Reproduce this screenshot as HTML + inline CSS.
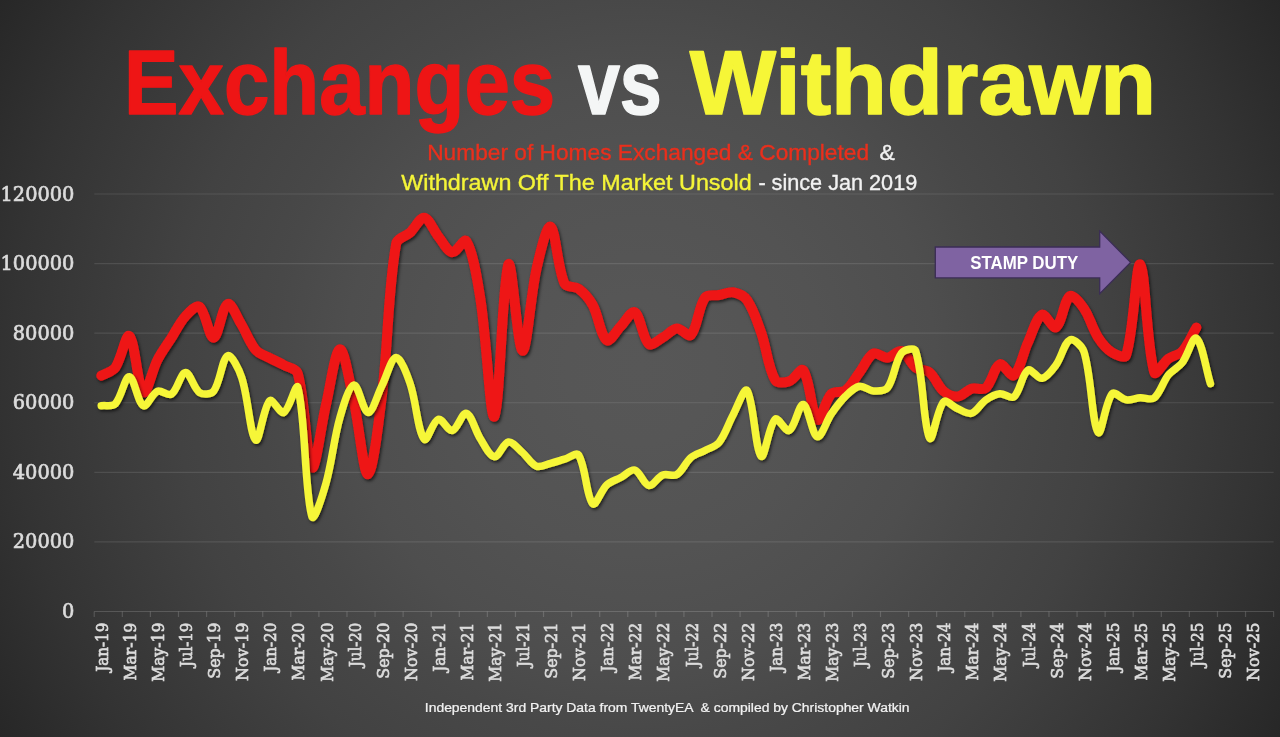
<!DOCTYPE html>
<html lang="en"><head><meta charset="utf-8"><title>Exchanges vs Withdrawn</title>
<style>
html,body{margin:0;padding:0;background:#272727;}
body{width:1280px;height:737px;overflow:hidden;position:relative;}
#bg{position:absolute;left:0;top:0;width:1280px;height:737px;background:radial-gradient(circle 739px at 640px 368.5px,#575757 0%, #565656 10%, #535353 25%, #4e4e4e 40%, #484848 50%, #424242 63%, #333333 85%, #272727 100%);}
svg{position:absolute;left:0;top:0;display:block;opacity:0.999;}
.sans{font-family:"Liberation Sans",sans-serif;}
.slab{font-family:"DejaVu Serif","Liberation Serif",serif;}
</style></head><body>
<div id="bg"></div>
<svg width="1280" height="737" viewBox="0 0 1280 737">
<defs><filter id="sh" x="-5%" y="-10%" width="110%" height="125%"><feDropShadow dx="1.4" dy="2.0" stdDeviation="1.6" flood-color="#000" flood-opacity="0.6"/></filter></defs>
<g stroke="#fff" stroke-opacity="0.105" stroke-width="1.2" fill="none">
<line x1="94.3" y1="541.92" x2="1273.6" y2="541.92"/>
<line x1="94.3" y1="472.34" x2="1273.6" y2="472.34"/>
<line x1="94.3" y1="402.76" x2="1273.6" y2="402.76"/>
<line x1="94.3" y1="333.18" x2="1273.6" y2="333.18"/>
<line x1="94.3" y1="263.60" x2="1273.6" y2="263.60"/>
<line x1="94.3" y1="194.02" x2="1273.6" y2="194.02"/>
</g>
<g stroke="#fff" stroke-opacity="0.16" stroke-width="1.2" fill="none">
<line x1="94.3" y1="611.5" x2="1273.6" y2="611.5"/>
<path d="M94.25 611.5V617M122.33 611.5V617M150.41 611.5V617M178.49 611.5V617M206.57 611.5V617M234.65 611.5V617M262.73 611.5V617M290.81 611.5V617M318.89 611.5V617M346.97 611.5V617M375.05 611.5V617M403.13 611.5V617M431.21 611.5V617M459.29 611.5V617M487.37 611.5V617M515.45 611.5V617M543.53 611.5V617M571.61 611.5V617M599.69 611.5V617M627.77 611.5V617M655.85 611.5V617M683.93 611.5V617M712.01 611.5V617M740.09 611.5V617M768.17 611.5V617M796.25 611.5V617M824.33 611.5V617M852.41 611.5V617M880.49 611.5V617M908.57 611.5V617M936.65 611.5V617M964.73 611.5V617M992.81 611.5V617M1020.89 611.5V617M1048.97 611.5V617M1077.05 611.5V617M1105.13 611.5V617M1133.21 611.5V617M1161.29 611.5V617M1189.37 611.5V617M1217.45 611.5V617M1245.53 611.5V617M1273.61 611.5V617"/>
</g>
<g id="ylab">
<text class="slab" transform="translate(74.40 617.60) scale(0.9500 1)" font-size="20.4" fill="#DCDCDC" text-anchor="end" font-weight="normal" id="yl0" stroke="#DCDCDC" stroke-width="0.7">0</text>
<text class="slab" transform="translate(74.40 548.12) scale(0.9500 1)" font-size="20.4" fill="#DCDCDC" text-anchor="end" font-weight="normal" id="yl1" stroke="#DCDCDC" stroke-width="0.7">20000</text>
<text class="slab" transform="translate(74.40 478.64) scale(0.9500 1)" font-size="20.4" fill="#DCDCDC" text-anchor="end" font-weight="normal" id="yl2" stroke="#DCDCDC" stroke-width="0.7">40000</text>
<text class="slab" transform="translate(74.40 409.16) scale(0.9500 1)" font-size="20.4" fill="#DCDCDC" text-anchor="end" font-weight="normal" id="yl3" stroke="#DCDCDC" stroke-width="0.7">60000</text>
<text class="slab" transform="translate(74.40 339.68) scale(0.9500 1)" font-size="20.4" fill="#DCDCDC" text-anchor="end" font-weight="normal" id="yl4" stroke="#DCDCDC" stroke-width="0.7">80000</text>
<text class="slab" transform="translate(74.40 270.20) scale(0.9500 1)" font-size="20.4" fill="#DCDCDC" text-anchor="end" font-weight="normal" id="yl5" stroke="#DCDCDC" stroke-width="0.7">100000</text>
<text class="slab" transform="translate(74.40 200.72) scale(0.9500 1)" font-size="20.4" fill="#DCDCDC" text-anchor="end" font-weight="normal" id="yl6" stroke="#DCDCDC" stroke-width="0.7">120000</text>
</g>
<g id="xlab">
<text id="xl0" class="slab" transform="translate(107.87 622.70) rotate(-90) scale(0.9208 1)" font-size="16.4" fill="#DCDCDC" stroke="#DCDCDC" stroke-width="0.7" text-anchor="end">Jan-19</text>
<text id="xl2" class="slab" transform="translate(135.95 622.70) rotate(-90) scale(0.9519 1)" font-size="16.4" fill="#DCDCDC" stroke="#DCDCDC" stroke-width="0.7" text-anchor="end">Mar-19</text>
<text id="xl4" class="slab" transform="translate(164.03 622.70) rotate(-90) scale(0.9487 1)" font-size="16.4" fill="#DCDCDC" stroke="#DCDCDC" stroke-width="0.7" text-anchor="end">May-19</text>
<text id="xl6" class="slab" transform="translate(192.11 622.70) rotate(-90) scale(0.9111 1)" font-size="16.4" fill="#DCDCDC" stroke="#DCDCDC" stroke-width="0.7" text-anchor="end">Jul-19</text>
<text id="xl8" class="slab" transform="translate(220.19 622.70) rotate(-90) scale(0.9691 1)" font-size="16.4" fill="#DCDCDC" stroke="#DCDCDC" stroke-width="0.7" text-anchor="end">Sep-19</text>
<text id="xl10" class="slab" transform="translate(248.27 622.70) rotate(-90) scale(0.9723 1)" font-size="16.4" fill="#DCDCDC" stroke="#DCDCDC" stroke-width="0.7" text-anchor="end">Nov-19</text>
<text id="xl12" class="slab" transform="translate(276.35 622.70) rotate(-90) scale(0.9208 1)" font-size="16.4" fill="#DCDCDC" stroke="#DCDCDC" stroke-width="0.7" text-anchor="end">Jan-20</text>
<text id="xl14" class="slab" transform="translate(304.43 622.70) rotate(-90) scale(0.9519 1)" font-size="16.4" fill="#DCDCDC" stroke="#DCDCDC" stroke-width="0.7" text-anchor="end">Mar-20</text>
<text id="xl16" class="slab" transform="translate(332.51 622.70) rotate(-90) scale(0.9487 1)" font-size="16.4" fill="#DCDCDC" stroke="#DCDCDC" stroke-width="0.7" text-anchor="end">May-20</text>
<text id="xl18" class="slab" transform="translate(360.59 622.70) rotate(-90) scale(0.9111 1)" font-size="16.4" fill="#DCDCDC" stroke="#DCDCDC" stroke-width="0.7" text-anchor="end">Jul-20</text>
<text id="xl20" class="slab" transform="translate(388.67 622.70) rotate(-90) scale(0.9691 1)" font-size="16.4" fill="#DCDCDC" stroke="#DCDCDC" stroke-width="0.7" text-anchor="end">Sep-20</text>
<text id="xl22" class="slab" transform="translate(416.75 622.70) rotate(-90) scale(0.9723 1)" font-size="16.4" fill="#DCDCDC" stroke="#DCDCDC" stroke-width="0.7" text-anchor="end">Nov-20</text>
<text id="xl24" class="slab" transform="translate(444.83 622.70) rotate(-90) scale(0.9208 1)" font-size="16.4" fill="#DCDCDC" stroke="#DCDCDC" stroke-width="0.7" text-anchor="end">Jan-21</text>
<text id="xl26" class="slab" transform="translate(472.91 622.70) rotate(-90) scale(0.9519 1)" font-size="16.4" fill="#DCDCDC" stroke="#DCDCDC" stroke-width="0.7" text-anchor="end">Mar-21</text>
<text id="xl28" class="slab" transform="translate(500.99 622.70) rotate(-90) scale(0.9487 1)" font-size="16.4" fill="#DCDCDC" stroke="#DCDCDC" stroke-width="0.7" text-anchor="end">May-21</text>
<text id="xl30" class="slab" transform="translate(529.07 622.70) rotate(-90) scale(0.9111 1)" font-size="16.4" fill="#DCDCDC" stroke="#DCDCDC" stroke-width="0.7" text-anchor="end">Jul-21</text>
<text id="xl32" class="slab" transform="translate(557.15 622.70) rotate(-90) scale(0.9691 1)" font-size="16.4" fill="#DCDCDC" stroke="#DCDCDC" stroke-width="0.7" text-anchor="end">Sep-21</text>
<text id="xl34" class="slab" transform="translate(585.23 622.70) rotate(-90) scale(0.9723 1)" font-size="16.4" fill="#DCDCDC" stroke="#DCDCDC" stroke-width="0.7" text-anchor="end">Nov-21</text>
<text id="xl36" class="slab" transform="translate(613.31 622.70) rotate(-90) scale(0.9208 1)" font-size="16.4" fill="#DCDCDC" stroke="#DCDCDC" stroke-width="0.7" text-anchor="end">Jan-22</text>
<text id="xl38" class="slab" transform="translate(641.39 622.70) rotate(-90) scale(0.9519 1)" font-size="16.4" fill="#DCDCDC" stroke="#DCDCDC" stroke-width="0.7" text-anchor="end">Mar-22</text>
<text id="xl40" class="slab" transform="translate(669.47 622.70) rotate(-90) scale(0.9487 1)" font-size="16.4" fill="#DCDCDC" stroke="#DCDCDC" stroke-width="0.7" text-anchor="end">May-22</text>
<text id="xl42" class="slab" transform="translate(697.55 622.70) rotate(-90) scale(0.9111 1)" font-size="16.4" fill="#DCDCDC" stroke="#DCDCDC" stroke-width="0.7" text-anchor="end">Jul-22</text>
<text id="xl44" class="slab" transform="translate(725.63 622.70) rotate(-90) scale(0.9691 1)" font-size="16.4" fill="#DCDCDC" stroke="#DCDCDC" stroke-width="0.7" text-anchor="end">Sep-22</text>
<text id="xl46" class="slab" transform="translate(753.71 622.70) rotate(-90) scale(0.9723 1)" font-size="16.4" fill="#DCDCDC" stroke="#DCDCDC" stroke-width="0.7" text-anchor="end">Nov-22</text>
<text id="xl48" class="slab" transform="translate(781.79 622.70) rotate(-90) scale(0.9208 1)" font-size="16.4" fill="#DCDCDC" stroke="#DCDCDC" stroke-width="0.7" text-anchor="end">Jan-23</text>
<text id="xl50" class="slab" transform="translate(809.87 622.70) rotate(-90) scale(0.9519 1)" font-size="16.4" fill="#DCDCDC" stroke="#DCDCDC" stroke-width="0.7" text-anchor="end">Mar-23</text>
<text id="xl52" class="slab" transform="translate(837.95 622.70) rotate(-90) scale(0.9487 1)" font-size="16.4" fill="#DCDCDC" stroke="#DCDCDC" stroke-width="0.7" text-anchor="end">May-23</text>
<text id="xl54" class="slab" transform="translate(866.03 622.70) rotate(-90) scale(0.9111 1)" font-size="16.4" fill="#DCDCDC" stroke="#DCDCDC" stroke-width="0.7" text-anchor="end">Jul-23</text>
<text id="xl56" class="slab" transform="translate(894.11 622.70) rotate(-90) scale(0.9691 1)" font-size="16.4" fill="#DCDCDC" stroke="#DCDCDC" stroke-width="0.7" text-anchor="end">Sep-23</text>
<text id="xl58" class="slab" transform="translate(922.19 622.70) rotate(-90) scale(0.9723 1)" font-size="16.4" fill="#DCDCDC" stroke="#DCDCDC" stroke-width="0.7" text-anchor="end">Nov-23</text>
<text id="xl60" class="slab" transform="translate(950.27 622.70) rotate(-90) scale(0.9208 1)" font-size="16.4" fill="#DCDCDC" stroke="#DCDCDC" stroke-width="0.7" text-anchor="end">Jan-24</text>
<text id="xl62" class="slab" transform="translate(978.35 622.70) rotate(-90) scale(0.9519 1)" font-size="16.4" fill="#DCDCDC" stroke="#DCDCDC" stroke-width="0.7" text-anchor="end">Mar-24</text>
<text id="xl64" class="slab" transform="translate(1006.43 622.70) rotate(-90) scale(0.9487 1)" font-size="16.4" fill="#DCDCDC" stroke="#DCDCDC" stroke-width="0.7" text-anchor="end">May-24</text>
<text id="xl66" class="slab" transform="translate(1034.51 622.70) rotate(-90) scale(0.9111 1)" font-size="16.4" fill="#DCDCDC" stroke="#DCDCDC" stroke-width="0.7" text-anchor="end">Jul-24</text>
<text id="xl68" class="slab" transform="translate(1062.59 622.70) rotate(-90) scale(0.9691 1)" font-size="16.4" fill="#DCDCDC" stroke="#DCDCDC" stroke-width="0.7" text-anchor="end">Sep-24</text>
<text id="xl70" class="slab" transform="translate(1090.67 622.70) rotate(-90) scale(0.9723 1)" font-size="16.4" fill="#DCDCDC" stroke="#DCDCDC" stroke-width="0.7" text-anchor="end">Nov-24</text>
<text id="xl72" class="slab" transform="translate(1118.75 622.70) rotate(-90) scale(0.9208 1)" font-size="16.4" fill="#DCDCDC" stroke="#DCDCDC" stroke-width="0.7" text-anchor="end">Jan-25</text>
<text id="xl74" class="slab" transform="translate(1146.83 622.70) rotate(-90) scale(0.9519 1)" font-size="16.4" fill="#DCDCDC" stroke="#DCDCDC" stroke-width="0.7" text-anchor="end">Mar-25</text>
<text id="xl76" class="slab" transform="translate(1174.91 622.70) rotate(-90) scale(0.9487 1)" font-size="16.4" fill="#DCDCDC" stroke="#DCDCDC" stroke-width="0.7" text-anchor="end">May-25</text>
<text id="xl78" class="slab" transform="translate(1202.99 622.70) rotate(-90) scale(0.9111 1)" font-size="16.4" fill="#DCDCDC" stroke="#DCDCDC" stroke-width="0.7" text-anchor="end">Jul-25</text>
<text id="xl80" class="slab" transform="translate(1231.07 622.70) rotate(-90) scale(0.9691 1)" font-size="16.4" fill="#DCDCDC" stroke="#DCDCDC" stroke-width="0.7" text-anchor="end">Sep-25</text>
<text id="xl82" class="slab" transform="translate(1259.15 622.70) rotate(-90) scale(0.9723 1)" font-size="16.4" fill="#DCDCDC" stroke="#DCDCDC" stroke-width="0.7" text-anchor="end">Nov-25</text>
</g>
<g fill="none" stroke-linecap="round" stroke-linejoin="round" filter="url(#sh)">
<path id="red" stroke="#EE1515" stroke-width="10" d="M101.27 375.62 C105.95 372.96 112.33 371.83 115.31 367.62 C121.69 358.61 125.85 332.89 129.35 335.96 C135.21 341.12 137.57 387.34 143.39 392.32 C146.93 395.35 152.07 370.39 157.43 359.97 C161.43 352.19 166.74 345.09 171.47 337.70 C176.10 330.48 179.86 322.36 185.51 316.13 C189.22 312.04 196.44 304.35 199.55 306.74 C205.80 311.54 209.08 338.15 213.59 337.70 C218.44 337.22 222.10 306.46 227.63 303.96 C231.46 302.22 237.28 317.81 241.67 325.00 C246.64 333.15 249.73 342.95 255.71 349.98 C259.09 353.95 265.00 355.44 269.75 357.99 C274.36 360.45 279.23 362.45 283.79 365.01 C288.59 367.71 296.44 368.67 297.83 373.75 C305.80 402.82 306.28 461.25 311.87 467.47 C315.64 471.67 320.98 425.75 325.91 404.99 C330.34 386.35 335.17 349.67 339.95 349.25 C344.53 348.85 349.97 384.61 353.99 402.52 C359.33 426.28 363.60 475.59 368.03 474.25 C372.96 472.77 378.79 420.98 382.07 394.06 C388.15 344.15 387.75 291.88 396.11 243.77 C397.11 238.04 405.76 236.59 410.15 232.53 C415.12 227.93 419.82 217.20 424.19 217.78 C429.18 218.45 433.34 230.29 438.23 236.29 C442.70 241.78 447.20 251.40 452.27 252.26 C456.56 252.98 464.13 237.42 466.31 241.02 C473.49 252.91 477.23 279.22 480.35 298.74 C486.59 337.71 490.30 421.52 494.39 416.50 C499.66 410.04 502.48 278.24 508.43 264.30 C511.84 256.31 517.67 349.94 522.47 350.71 C527.03 351.45 530.41 295.76 536.51 268.82 C539.77 254.44 546.52 224.62 550.55 226.76 C555.88 229.59 557.13 267.26 564.59 283.74 C566.49 287.93 574.79 285.85 578.63 288.75 C584.15 292.94 589.29 298.80 592.67 305.00 C598.65 315.96 600.56 335.60 606.71 340.24 C609.92 342.67 616.07 330.89 620.75 326.22 C625.43 321.56 631.39 310.08 634.79 312.24 C640.75 316.01 642.36 338.18 648.83 344.00 C651.72 346.59 658.37 339.98 662.87 337.49 C667.73 334.81 672.05 328.93 676.91 328.48 C681.41 328.07 688.34 337.80 690.95 334.92 C697.70 327.48 698.09 307.32 704.99 297.52 C707.45 294.02 714.36 295.89 719.03 295.02 C723.72 294.14 728.66 291.46 733.07 292.27 C738.02 293.17 744.18 295.93 747.11 300.13 C753.54 309.35 757.25 321.44 761.15 332.52 C766.61 348.06 767.90 367.36 775.19 380.01 C777.26 383.61 785.10 382.69 789.23 381.26 C794.46 379.45 800.86 366.97 803.27 370.27 C810.22 379.76 811.36 414.66 817.31 419.63 C820.72 422.49 825.07 400.27 831.35 393.75 C834.43 390.56 841.77 393.25 845.39 390.51 C851.13 386.17 854.83 378.56 859.43 372.49 C864.19 366.22 867.70 356.53 873.47 353.50 C877.06 351.61 882.97 358.15 887.51 357.74 C892.33 357.31 897.64 349.63 901.55 350.99 C907.00 352.89 910.04 363.27 915.59 367.52 C919.40 370.44 925.99 369.42 929.63 372.49 C935.35 377.34 937.96 386.40 943.67 391.28 C947.32 394.40 953.20 396.93 957.71 396.50 C962.56 396.04 966.75 390.12 971.75 388.60 C976.11 387.28 982.63 390.72 985.79 387.97 C991.99 382.60 994.15 366.82 999.83 364.25 C1003.51 362.58 1010.75 377.69 1013.87 375.28 C1020.11 370.45 1022.91 353.28 1027.91 342.50 C1032.27 333.10 1036.11 317.92 1041.95 314.74 C1045.47 312.82 1052.67 329.45 1055.99 327.23 C1062.03 323.19 1064.01 299.95 1070.03 295.99 C1073.37 293.79 1080.58 303.61 1084.07 308.76 C1089.94 317.44 1092.41 328.62 1098.11 337.49 C1101.77 343.19 1106.63 349.05 1112.15 352.49 C1115.99 354.88 1124.93 358.95 1126.19 354.99 C1134.29 329.55 1135.95 261.66 1140.23 264.30 C1145.31 267.42 1146.33 345.54 1154.27 372.25 C1155.69 377.03 1163.16 362.60 1168.31 358.75 C1172.52 355.61 1178.93 355.08 1182.35 351.27 C1188.29 344.66 1191.71 335.43 1196.39 327.51"/>
</g>
<g fill="none" stroke-linecap="round" stroke-linejoin="round" filter="url(#sh)">
<path id="yel" stroke="#F6F637" stroke-width="7.5" d="M101.27 405.75 C105.95 405.10 112.34 406.87 115.31 403.80 C121.70 397.20 124.80 376.42 129.35 376.74 C134.16 377.07 137.63 402.77 143.39 405.75 C146.99 407.62 151.96 393.52 157.43 391.28 C161.32 389.68 168.13 396.47 171.47 394.24 C177.49 390.21 180.70 372.78 185.51 372.49 C190.06 372.22 193.61 388.56 199.55 392.53 C202.97 394.82 211.07 394.58 213.59 391.28 C220.43 382.33 222.05 358.50 227.63 355.76 C231.41 353.90 238.98 369.42 241.67 377.50 C248.34 397.50 250.04 435.29 255.71 439.99 C259.40 443.04 263.25 407.11 269.75 400.74 C272.61 397.95 280.14 414.22 283.79 412.50 C289.50 409.80 296.14 381.21 297.83 387.49 C305.50 415.89 304.54 491.46 311.87 516.52 C313.90 523.46 322.66 494.94 325.91 483.47 C332.02 461.94 333.81 439.03 339.95 417.51 C343.17 406.21 348.99 385.91 353.99 385.02 C358.35 384.24 363.33 412.44 368.03 412.50 C372.69 412.56 377.44 394.44 382.07 385.37 C386.80 376.10 391.31 357.80 396.11 357.50 C400.67 357.22 406.96 374.34 410.15 383.63 C416.32 401.59 417.63 430.93 424.19 439.25 C426.99 442.80 432.84 420.93 438.23 419.25 C442.20 418.01 448.09 431.38 452.27 430.49 C457.45 429.38 462.26 412.04 466.31 413.23 C471.62 414.79 475.11 430.60 480.35 438.73 C484.47 445.11 489.44 456.18 494.39 456.75 C498.80 457.27 503.40 442.76 508.43 442.00 C512.76 441.35 518.06 448.70 522.47 452.51 C527.42 456.78 531.10 464.17 536.51 466.25 C540.46 467.77 545.92 464.47 550.55 463.29 C555.28 462.09 559.91 460.50 564.59 459.12 C569.27 457.74 576.53 451.68 578.63 455.01 C585.89 466.56 586.27 496.92 592.67 503.76 C595.63 506.91 601.14 490.22 606.71 485.00 C610.50 481.46 616.07 479.99 620.75 477.49 C625.43 474.99 630.74 468.86 634.79 470.01 C640.10 471.52 643.74 484.59 648.83 485.49 C653.10 486.25 657.67 477.02 662.87 474.98 C667.03 473.35 673.27 476.77 676.91 474.50 C682.63 470.93 685.48 462.16 690.95 457.48 C694.84 454.16 700.38 452.95 704.99 450.49 C709.74 447.96 715.81 446.56 719.03 442.49 C725.17 434.73 728.18 424.05 733.07 415.01 C737.54 406.75 744.34 386.52 747.11 390.58 C753.70 400.27 755.26 450.25 761.15 456.27 C764.62 459.81 768.75 425.16 775.19 419.25 C778.11 416.57 785.69 432.35 789.23 430.49 C795.05 427.43 799.00 403.55 803.27 404.50 C808.36 405.63 812.01 434.97 817.31 436.72 C821.37 438.05 826.25 421.11 831.35 413.75 C835.61 407.62 840.10 401.44 845.39 396.25 C849.46 392.27 854.39 387.19 859.43 386.23 C863.75 385.42 868.72 390.67 873.47 390.93 C878.08 391.19 884.92 391.30 887.51 387.80 C894.28 378.66 894.76 361.93 901.55 353.01 C904.12 349.64 914.30 346.99 915.59 350.92 C923.66 375.41 923.14 426.50 929.63 438.25 C932.50 443.44 936.99 408.77 943.67 401.75 C946.35 398.94 952.88 406.77 957.71 408.74 C962.24 410.60 967.70 414.49 971.75 413.23 C977.06 411.58 980.58 403.63 985.79 400.01 C989.94 397.13 994.99 394.29 999.83 393.75 C1004.35 393.24 1010.86 399.39 1013.87 396.85 C1020.22 391.48 1021.82 374.05 1027.91 370.02 C1031.18 367.86 1037.67 379.03 1041.95 378.27 C1047.03 377.36 1052.24 370.15 1055.99 365.01 C1061.60 357.33 1064.34 342.44 1070.03 339.79 C1073.70 338.09 1082.34 346.24 1084.07 351.97 C1091.70 377.15 1091.89 423.25 1098.11 432.51 C1101.25 437.17 1105.32 401.70 1112.15 393.75 C1114.68 390.80 1121.34 399.12 1126.19 399.80 C1130.70 400.44 1135.52 398.04 1140.23 397.72 C1144.88 397.40 1151.05 400.49 1154.27 397.89 C1160.41 392.93 1162.81 381.96 1168.31 375.03 C1172.17 370.17 1178.59 367.43 1182.35 362.51 C1187.95 355.17 1192.92 335.64 1196.39 338.26 C1202.28 342.71 1205.75 368.57 1210.43 383.73"/>
</g>
<path id="arrow" d="M935.3 247H1099.7V231.1L1130.6 262.4L1099.7 293.7V277.9H935.3Z" fill="#7F63A2" stroke="#3B2D55" stroke-width="1.3" stroke-linejoin="miter"/>
<text class="sans" transform="translate(970.20 268.90) scale(0.9000 1)" font-size="18.75" fill="#fff" text-anchor="start" font-weight="bold" id="arrowt">STAMP DUTY</text>
<text class="sans" transform="translate(124.00 114.10) scale(0.9026 1)" font-size="90.5" fill="#EE1515" text-anchor="start" font-weight="bold" id="t1" stroke="#EE1515" stroke-width="1.5" stroke-linejoin="round">Exchanges</text>
<text class="sans" transform="translate(577.90 114.10) scale(0.8340 1)" font-size="90.5" fill="#F4F6F6" text-anchor="start" font-weight="bold" id="t2" stroke="#F4F6F6" stroke-width="1.5" stroke-linejoin="round">vs</text>
<text class="sans" transform="translate(689.80 114.10) scale(1.0103 1)" font-size="90.5" fill="#F6F637" text-anchor="start" font-weight="bold" id="t3" stroke="#F6F637" stroke-width="1.5" stroke-linejoin="round">Withdrawn</text>
<text class="sans" transform="translate(427.20 159.75) scale(1.0150 1)" font-size="22.4" fill="#EA2F1C" text-anchor="start" font-weight="normal" id="s1" stroke="#EA2F1C" stroke-width="0.35">Number of Homes Exchanged &amp; Completed</text>
<text class="sans" transform="translate(879.60 159.75) scale(1.0300 1)" font-size="22.4" fill="#F2F2F2" text-anchor="start" font-weight="normal" id="s2" stroke="#F2F2F2" stroke-width="0.35">&amp;</text>
<text class="sans" transform="translate(401.20 189.75) scale(1.0420 1)" font-size="22.4" fill="#F4F438" text-anchor="start" font-weight="normal" id="s3" stroke="#F4F438" stroke-width="0.35">Withdrawn Off The Market Unsold</text>
<text class="sans" transform="translate(758.40 189.75) scale(0.9670 1)" font-size="22.4" fill="#F2F2F2" text-anchor="start" font-weight="normal" id="s4" stroke="#F2F2F2" stroke-width="0.35">- since Jan 2019</text>
<text class="sans" transform="translate(424.80 712.30) scale(1.0310 1)" font-size="13.5" fill="#F2F2F2" text-anchor="start" font-weight="normal" id="foot" stroke="#F2F2F2" stroke-width="0.25">Independent 3rd Party Data from TwentyEA &#160;&amp; compiled by Christopher Watkin</text>
</svg>
</body></html>
